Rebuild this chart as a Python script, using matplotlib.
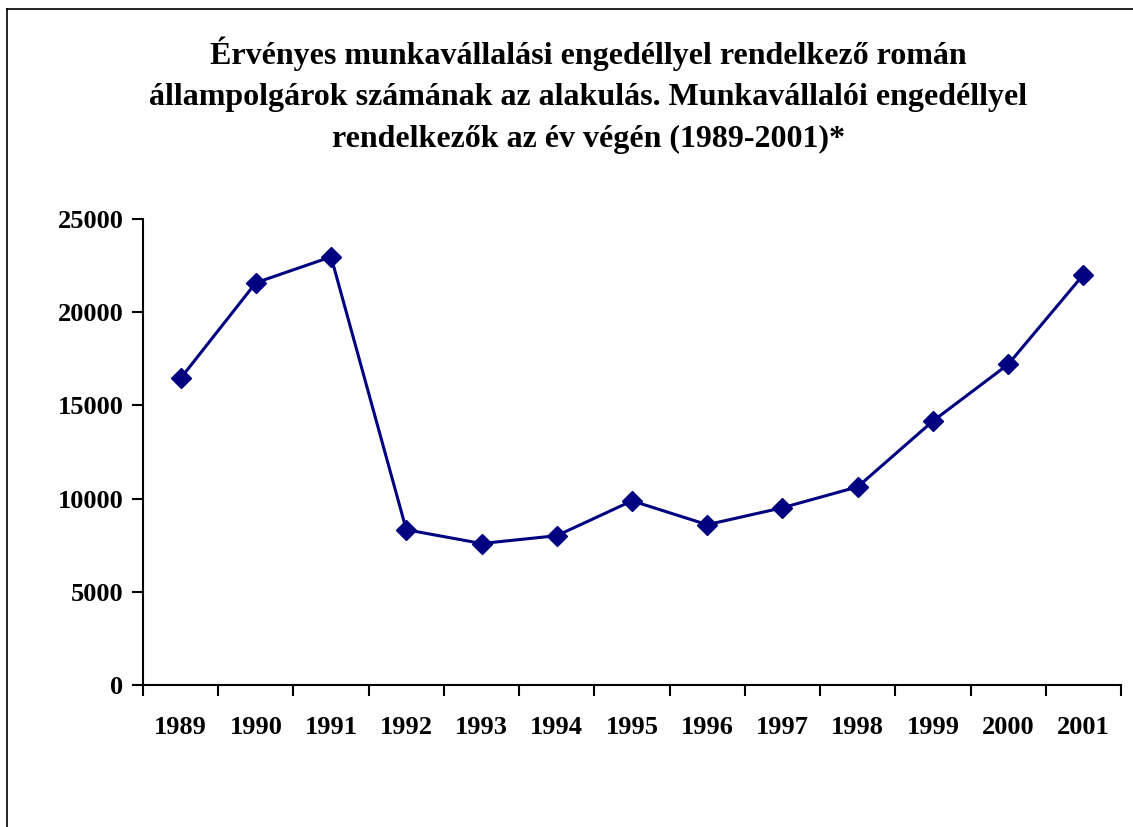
import numpy as np
import matplotlib.pyplot as plt
from matplotlib.lines import Line2D

plt.rcParams['font.family'] = ['Liberation Serif', 'DejaVu Serif']
plt.rcParams['font.weight'] = 'bold'

years = ['1989', '1990', '1991', '1992', '1993', '1994', '1995',
         '1996', '1997', '1998', '1999', '2000', '2001']
permits = [16450, 21580, 22970, 8330, 7590, 8010, 9880,
           8600, 9510, 10630, 14160, 17200, 22010]

title = ("Érvényes munkavállalási engedéllyel rendelkező román\n"
         "állampolgárok számának az alakulás. Munkavállalói engedéllyel\n"
         "rendelkezők az év végén (1989-2001)*")

fig = plt.figure(figsize=(11.33, 8.27), dpi=100)
ax = fig.add_axes([0.1262, 0.1717, 0.8632, 0.5635])

x = np.arange(len(years))
ax.plot(x, permits, color='#000080', lw=2.2, marker='D', markersize=10.5,
        markeredgecolor='#000080', markerfacecolor='#000080')

ax.set_xlim(-0.5, len(years) - 0.5)
ax.set_ylim(0, 25000)
ax.set_yticks(np.arange(0, 25001, 5000))
ax.set_xticks(x)
ax.set_xticklabels(years)
ax.set_xticks(np.arange(-0.5, len(years), 1), minor=True)
ax.tick_params(axis='x', which='major', length=0, pad=22, labelsize=19)
ax.tick_params(axis='x', which='minor', length=8, width=1.5, direction='out')
ax.tick_params(axis='y', length=8, width=1.5, direction='out', pad=6, labelsize=19)
for lab in ax.get_xticklabels() + ax.get_yticklabels():
    lab.set_fontweight('bold')

ax.spines['top'].set_visible(False)
ax.spines['right'].set_visible(False)
ax.spines['left'].set_linewidth(1.5)
ax.spines['bottom'].set_linewidth(1.5)

fig.text(0.519, 0.956, title, ha='center', va='top', fontsize=23,
         fontweight='bold', linespacing=1.56)

# partial frame around the chart area
fig.add_artist(Line2D([0.0062, 0.0062], [0.0, 0.989], transform=fig.transFigure,
                      color='black', lw=1.2))
fig.add_artist(Line2D([0.0062, 1.0], [0.989, 0.989], transform=fig.transFigure,
                      color='black', lw=1.2))

fig.savefig('out.png', dpi=100)
